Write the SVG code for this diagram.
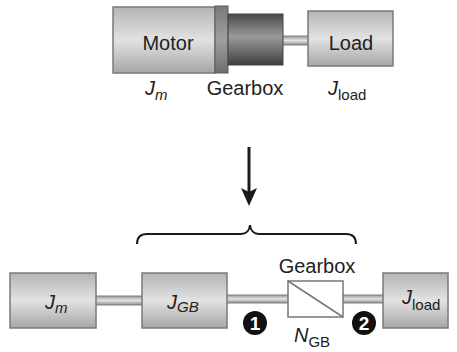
<svg xmlns="http://www.w3.org/2000/svg" width="457" height="352" viewBox="0 0 457 352">
<defs>
<linearGradient id="box" x1="0" y1="0" x2="0" y2="1">
<stop offset="0" stop-color="#b4b4b4"/>
<stop offset="0.5" stop-color="#e2e2e2"/>
<stop offset="1" stop-color="#a6a6a6"/>
</linearGradient>
<linearGradient id="gear" x1="0" y1="0" x2="0" y2="1">
<stop offset="0" stop-color="#4a4a4a"/>
<stop offset="0.45" stop-color="#9a9a9a"/>
<stop offset="1" stop-color="#3e3e3e"/>
</linearGradient>
<linearGradient id="shaft" x1="0" y1="0" x2="0" y2="1">
<stop offset="0" stop-color="#9a9a9a"/>
<stop offset="0.5" stop-color="#e4e4e4"/>
<stop offset="1" stop-color="#8e8e8e"/>
</linearGradient>
<linearGradient id="flange" x1="0" y1="0" x2="0" y2="1">
<stop offset="0" stop-color="#7a7a7a"/>
<stop offset="0.5" stop-color="#a0a0a0"/>
<stop offset="1" stop-color="#6e6e6e"/>
</linearGradient>
</defs>
<style>
.b{fill:url(#box);stroke:#7a7a7a;stroke-width:1.5}
.s{fill:url(#shaft);stroke:#808080;stroke-width:1}
.t{font-family:"Liberation Sans",Arial,sans-serif;font-size:20px;fill:#222}
.i{font-style:italic}
.sub{font-size:15px}
.c{fill:#111}
.n{font-family:"Liberation Sans",Arial,sans-serif;font-size:19px;font-weight:bold;fill:#fff}
</style>
<g id="top-shaft"><rect class="s" x="282" y="36" width="27" height="9"/></g>
<g id="motor">
<rect class="b" x="113" y="7" width="102" height="66"/>
<text class="t" x="168" y="50" text-anchor="middle">Motor</text>
</g>
<g id="flange"><rect x="215" y="6" width="13" height="67" fill="url(#flange)" stroke="#5a5a5a" stroke-width="1"/></g>
<g id="gearbox-top"><rect x="228" y="14" width="55" height="51" fill="url(#gear)" stroke="#444" stroke-width="1"/></g>
<g id="load">
<rect class="b" x="308" y="11" width="85" height="55"/>
<text class="t" x="351" y="50" text-anchor="middle">Load</text>
</g>
<text class="t i" x="145" y="95">J<tspan class="sub" dy="5">m</tspan></text>
<text class="t" x="245" y="95" text-anchor="middle">Gearbox</text>
<text class="t i" x="328" y="95">J<tspan class="sub" font-style="normal" dy="5">load</tspan></text>
<g id="connectors">
<line x1="249" y1="147" x2="249" y2="194" stroke="#1a1a1a" stroke-width="3"/>
<path d="M241,188 L249,206 L257,188 L249,192 Z" fill="#1a1a1a"/>
<path d="M137,244 Q137,234 147,234 L241,234 Q249,234 250,225 Q251,234 259,234 L346,234 Q356,234 356,244" fill="none" stroke="#1a1a1a" stroke-width="2"/>
<rect class="s" x="95" y="296" width="48" height="9"/>
<rect class="s" x="226" y="295" width="63" height="8"/>
<rect class="s" x="342" y="295" width="42" height="8"/>
</g>
<g id="jm">
<rect class="b" x="10" y="273" width="86" height="55"/>
<text class="t i" x="45" y="309">J<tspan class="sub" dy="4">m</tspan></text>
</g>
<g id="jgb">
<rect class="b" x="142" y="273" width="85" height="55"/>
<text class="t i" x="167" y="309">J<tspan class="sub" dy="3">GB</tspan></text>
</g>
<g id="gearbox">
<rect x="288" y="281" width="55" height="36" fill="#fff" stroke="#777" stroke-width="1.5"/>
<line x1="288" y1="281" x2="343" y2="317" stroke="#777" stroke-width="1.5"/>
<text class="t" x="317" y="273" text-anchor="middle">Gearbox</text>
<text class="t i" x="294" y="342">N<tspan class="sub" font-style="normal" dy="5">GB</tspan></text>
</g>
<g id="jload">
<rect class="b" x="383" y="273" width="65" height="55"/>
<text class="t i" x="402" y="304">J<tspan class="sub" font-style="normal" dy="6">load</tspan></text>
</g>
<g id="p1"><circle class="c" cx="255" cy="323" r="12"/><text class="n" x="255" y="330" text-anchor="middle">1</text></g>
<g id="p2"><circle class="c" cx="364" cy="323" r="12"/><text class="n" x="364" y="330" text-anchor="middle">2</text></g>
</svg>
